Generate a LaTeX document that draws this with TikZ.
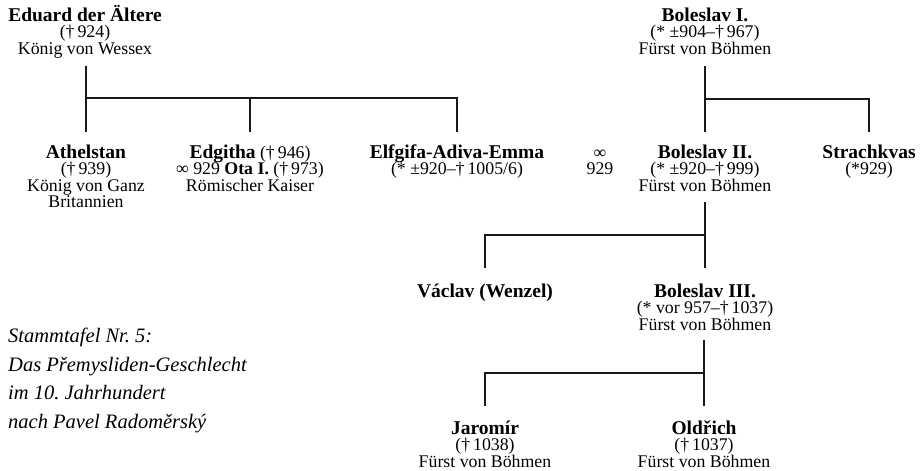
\documentclass[tikz,border=0pt]{standalone}
\usepackage{fontspec}
\setmainfont{Liberation Serif}
\frenchspacing
\newcommand{\nm}[1]{{\fontsize{19.5}{16.5}\selectfont\bfseries #1}}

\begin{document}
\begin{tikzpicture}[x=1pt, y=-1pt,
      person/.style = {anchor=base, align=center, inner sep=0pt,
                       font={\fontsize{17.8}{16.5}\selectfont\lineskiplimit=-50pt}},
     caption/.style = {anchor=base west, align=left, inner sep=0pt,
                       font={\fontsize{20.5}{28.5}\selectfont\itshape}},
        line/.style = {line width=1.6pt, color=black!90}
                    ]
\useasboundingbox (0,0) rectangle (924,471);
% parents (placed at the baseline of their last line)
\node (eduard)    [person] at (85,54)  {\nm{Eduard der Ältere}\\(†\,924)\\König von Wessex};
\node (boleslavI) [person] at (705,54) {\nm{Boleslav I.}\\(* ±904–†\,967)\\Fürst von Böhmen};
% children
\node (athelstan) [person] at (86,207.5) {\nm{Athelstan}\\(†\,939)\\König von Ganz\\Britannien};
\node (edgitha)   [person] at (250,191)  {\nm{Edgitha} (†\,946)\\∞ 929 \textbf{Ota I.} (†\,973)\\Römischer Kaiser};
\node (elfgifa)   [person] at (457,174.5) {\nm{Elfgifa-Adiva-Emma}\\(* ±920–†\,1005/6)};
\node (marriage)  [person] at (600,174.5) {∞\\929};
\node (boleslavII)[person] at (705,191)  {\nm{Boleslav II.}\\(* ±920–†\,999)\\Fürst von Böhmen};
\node (strachkvas)[person] at (869,174.5) {\nm{Strachkvas}\\(*929)};
% grandchildren
\node (vaclav)     [person] at (485,297) {\nm{Václav (Wenzel)}};
\node (boleslavIII)[person] at (705,330) {\nm{Boleslav III.}\\(* vor 957–†\,1037)\\Fürst von Böhmen};
\node (jaromir)    [person] at (485,467) {\nm{Jaromír}\\(†\,1038)\\Fürst von Böhmen};
\node (oldrich)    [person] at (704,467) {\nm{Oldřich}\\(†\,1037)\\Fürst von Böhmen};
% caption
\node (title) [caption] at (8,428) {Stammtafel Nr. 5:\\Das Přemysliden-Geschlecht\\im 10. Jahrhundert\\nach Pavel Radoměrský};
% lines
\draw[line] (athelstan |- 0,66) -- (athelstan |- 0,132);
\draw[line] (athelstan |- 0,98) -| (elfgifa |- 0,132);
\draw[line] (edgitha |- 0,98) -- (edgitha |- 0,132);
\draw[line] (boleslavII |- 0,66) -- (boleslavII |- 0,132);
\draw[line] (boleslavII |- 0,99) -| (strachkvas |- 0,132);
\draw[line] (boleslavIII |- 0,202) -- (boleslavIII |- 0,268);
\draw[line] (boleslavIII |- 0,235) -| (vaclav |- 0,268);
\draw[line] (oldrich |- 0,340) -- (oldrich |- 0,406);
\draw[line] (oldrich |- 0,373) -| (jaromir |- 0,406);
\end{tikzpicture}
\end{document}
